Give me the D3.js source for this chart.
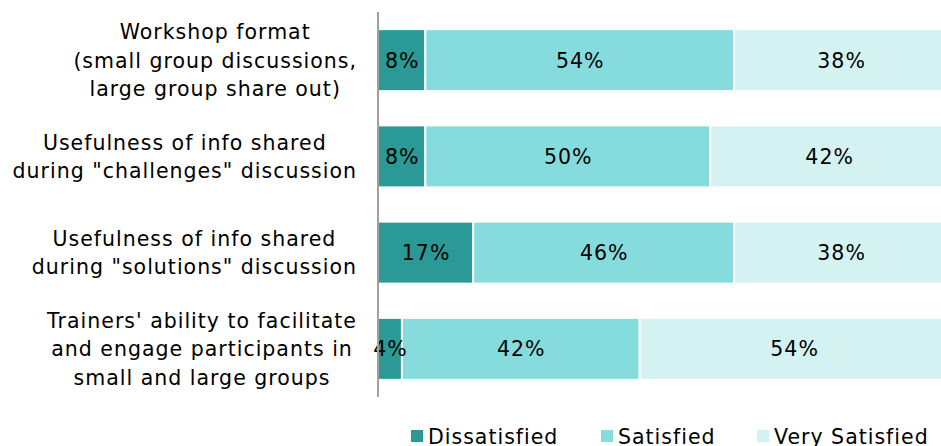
<!DOCTYPE html>
<html>
<head>
<meta charset="utf-8">
<script src="https://cdn.jsdelivr.net/npm/d3@7"></script>
<style>
  html, body { margin: 0; padding: 0; background: #fff; }
  svg { display: block; }
  text { font-family: Verdana, "DejaVu Sans", sans-serif; fill: #000; letter-spacing: 1px; }
</style>
</head>
<body>
<svg id="chart" width="941" height="446"></svg>
<script>
// ---- data ----
const categories = [
  ["Workshop format", "(small group discussions,", "large group share out)"],
  ["Usefulness of info shared", "during \"challenges\" discussion"],
  ["Usefulness of info shared", "during \"solutions\" discussion"],
  ["Trainers' ability to facilitate", "and engage participants in", "small and large groups"]
];
const seriesNames = ["Dissatisfied", "Satisfied", "Very Satisfied"];
const dissatisfied = [8.3, 8.3, 16.7, 4.2];
const satisfied = [54.2, 50.0, 45.8, 41.7];
const verySatisfied = [37.5, 41.7, 37.5, 54.2];
const colors = ["#2b9a97", "#86dcdc", "#d5f2f2"];

// ---- layout ----
const svg = d3.select("#chart");
const FS = "20.5px";
const x0 = 378, x1 = 948, yTop = 12, yBot = 397;
const x = d3.scaleLinear().domain([0, 100]).range([x0, x1]);
const y = d3.scaleBand().domain(d3.range(categories.length)).range([yTop, yBot]).paddingInner(0.356).paddingOuter(0.178);

const stackData = categories.map((c, i) => ({i, d: dissatisfied[i], s: satisfied[i], v: verySatisfied[i]}));
const stacked = d3.stack().keys(["d", "s", "v"])(stackData);

const g = svg.append("g");
stacked.forEach((layer, k) => {
  g.selectAll(null).data(layer).enter().append("rect")
    .attr("x", d => x(d[0]))
    .attr("y", d => y(d.data.i))
    .attr("width", d => x(d[1]) - x(d[0]))
    .attr("height", y.bandwidth())
    .attr("fill", colors[k])
    .attr("stroke", "#fff")
    .attr("stroke-width", 2);
});
stacked.forEach((layer, k) => {
  g.selectAll(null).data(layer).enter().append("text")
    .attr("x", d => (x(d[0]) + x(d[1])) / 2 + 0.5)
    .attr("y", d => y(d.data.i) + y.bandwidth() / 2)
    .attr("dy", "0.36em")
    .attr("text-anchor", "middle")
    .style("font-size", FS)
    .text(d => Math.round(d[1] - d[0]) + "%");
});

// axis line
svg.append("line").attr("x1", x0).attr("x2", x0).attr("y1", yTop).attr("y2", yBot)
  .attr("stroke", "#a0a0a0").attr("stroke-width", 2);

// category labels
const lineH = 28.5;
categories.forEach((lines, i) => {
  const t = svg.append("text").style("font-size", FS).attr("text-anchor", "middle");
  const cy = y(i) + y.bandwidth() / 2;
  const n = lines.length;
  lines.forEach((ln, j) => {
    t.append("tspan").attr("y", cy + (j - (n - 1) / 2) * lineH).attr("dy", "0.36em").text(ln);
  });
  let maxW = 0;
  t.selectAll("tspan").each(function() { maxW = Math.max(maxW, this.getComputedTextLength()); });
  const cx = 357 - maxW / 2;
  t.selectAll("tspan").attr("x", cx);
});

// legend
const legX = [411, 601, 757];
seriesNames.forEach((name, k) => {
  svg.append("rect").attr("x", legX[k]).attr("y", 430).attr("width", 12).attr("height", 12).attr("fill", colors[k]);
  svg.append("text").attr("x", legX[k] + 17).attr("y", 444).style("font-size", FS).text(name);
});
</script>
</body>
</html>
